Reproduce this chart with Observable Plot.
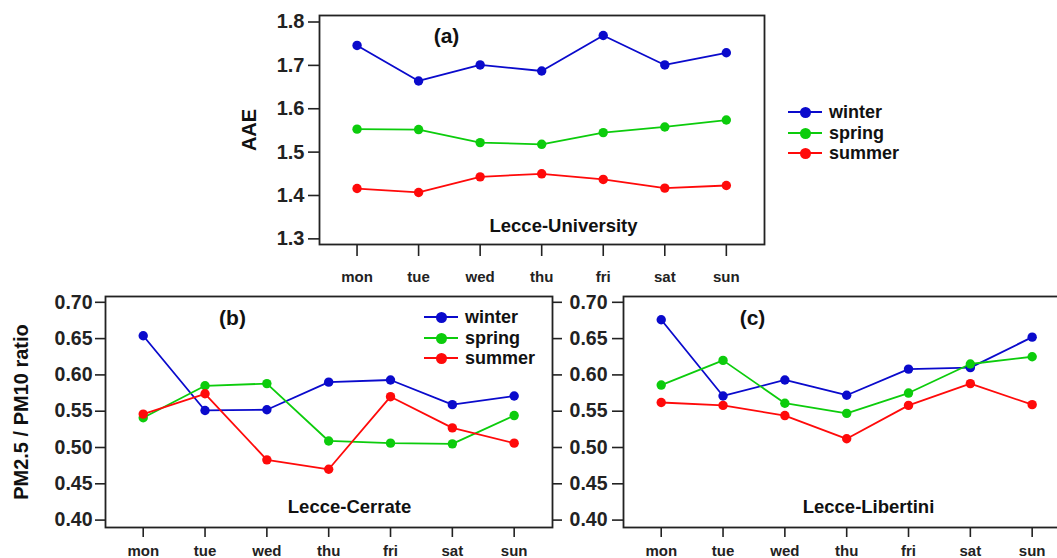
<!DOCTYPE html>
<html><head><meta charset="utf-8">
<script src="https://cdn.jsdelivr.net/npm/d3@7"></script>
<script src="https://cdn.jsdelivr.net/npm/@observablehq/plot@0.6"></script>
<style>
body{margin:0;background:#fff;overflow:hidden}
#wrap{position:relative;width:1057px;height:558px;overflow:hidden;font-family:"Liberation Sans",Arial,sans-serif;font-weight:bold;color:#111}
.panel{position:absolute}
.panel svg{max-width:none !important}
.legend{position:absolute;font-size:18px}
.row{position:absolute;left:0;height:20px;white-space:nowrap}
.sw{position:absolute;left:0;top:9px;width:34px;height:0;border-top:2px solid}
.dt{position:absolute;left:12px;top:5px;width:11px;height:11px;border-radius:50%}
.lb{position:absolute;left:41px;top:0;line-height:20px}
</style></head><body><div id="wrap"></div>
<script>
const days = ["mon","tue","wed","thu","fri","sat","sun"];
const seasons = ["winter","spring","summer"];
const seasonColors = ["#0a0acc","#0ccc0c","#ff0a0a"];

// (a) AAE, Lecce-University
const aaeWinter = [1.746,1.664,1.701,1.687,1.769,1.701,1.729];
const aaeSpring = [1.553,1.552,1.522,1.518,1.545,1.558,1.574];
const aaeSummer = [1.416,1.407,1.443,1.450,1.437,1.417,1.423];
// (b) PM2.5/PM10, Lecce-Cerrate
const cerWinter = [0.654,0.551,0.552,0.590,0.593,0.559,0.571];
const cerSpring = [0.541,0.585,0.588,0.509,0.506,0.505,0.544];
const cerSummer = [0.546,0.574,0.483,0.470,0.570,0.527,0.506];
// (c) PM2.5/PM10, Lecce-Libertini
const libWinter = [0.676,0.571,0.593,0.572,0.608,0.610,0.652];
const libSpring = [0.586,0.620,0.561,0.547,0.575,0.615,0.625];
const libSummer = [0.562,0.558,0.544,0.512,0.558,0.588,0.559];

const aaeTicks = [1.3,1.4,1.5,1.6,1.7,1.8];
const ratioTicks = [0.40,0.45,0.50,0.55,0.60,0.65,0.70];

function rowsOf(series){
  return series.flatMap((vals,k)=>vals.map((v,i)=>({day:i,value:v,season:seasons[k]})));
}

const wrap = document.getElementById("wrap");
const INK = "#222";

function drawPanel(o){
  const rows = rowsOf(o.series);
  const marks = [
    Plot.axisY(o.yTicks, {anchor:"left", tickSize:o.tyS, tickPadding:o.tyP, tickFormat:o.yFmt, fontSize:o.yFont, color:INK, strokeWidth:1.6, label:null}),
    Plot.axisX(d3.range(days.length), {anchor:"bottom", tickSize:o.txS, tickPadding:o.txP, tickFormat:i=>days[i], fontSize:o.xFont, color:INK, strokeWidth:1.6, label:null}),
  ];
  if (o.rightTicks) marks.push(Plot.axisY(o.yTicks, {anchor:"right", tickSize:9, tickFormat:()=>"", color:INK, strokeWidth:1.6, label:null}));
  marks.push(
    Plot.frame({stroke:INK, strokeWidth:1.8}),
    Plot.line(rows, {x:"day", y:"value", z:"season", stroke:"season", strokeWidth:1.8}),
    Plot.dot(rows, {x:"day", y:"value", fill:"season", r:4.7}),
    Plot.text([o.tag], {frameAnchor:"top-left", dx:o.tagDx, dy:o.tagDy, textAnchor:"middle", lineAnchor:"middle", fontSize:21, fill:"#111"}),
    Plot.text([o.site], {frameAnchor:"bottom-left", dx:o.siteDx, dy:o.siteDy, textAnchor:"middle", lineAnchor:"middle", fontSize:18.5, fill:"#111"})
  );
  if (o.ylabel) marks.push(Plot.text([o.ylabel], {frameAnchor:"left", dx:o.ylabelDx, rotate:-90, textAnchor:"middle", lineAnchor:"middle", fontSize:o.ylabelFont, fill:"#111"}));
  const svg = Plot.plot({
    width:o.width, height:o.height,
    marginLeft:o.ml, marginRight:o.mr, marginTop:o.mt, marginBottom:o.mb,
    x:{type:"linear", domain:[-0.61,6.62], axis:null},
    y:{domain:o.yDomain, axis:null},
    color:{domain:seasons, range:seasonColors},
    style:{fontFamily:'"Liberation Sans", Arial, sans-serif', fontWeight:"bold", background:"transparent", overflow:"visible", color:"#111", maxWidth:"none"},
    marks
  });
  svg.style.maxWidth = "none";
  const holder = document.createElement("div");
  holder.className = "panel";
  holder.style.left = o.left+"px"; holder.style.top = o.top+"px";
  holder.style.width = o.width+"px"; holder.style.height = o.height+"px";
  holder.appendChild(svg);
  wrap.appendChild(holder);
}

function legend(left, top, gap){
  const lg = document.createElement("div");
  lg.className = "legend";
  lg.style.left = left+"px"; lg.style.top = top+"px";
  seasons.forEach((s,k)=>{
    const r = document.createElement("div");
    r.className = "row"; r.style.top = (k*gap)+"px";
    r.innerHTML = `<div class="sw" style="border-color:${seasonColors[k]}"></div><div class="dt" style="background:${seasonColors[k]}"></div><div class="lb">${s}</div>`;
    lg.appendChild(r);
  });
  wrap.appendChild(lg);
}

drawPanel({series:[aaeWinter,aaeSpring,aaeSummer], left:230, top:0, width:560, height:285, ml:89, mr:26, mt:15, mb:41,
  yDomain:[1.287,1.815], yTicks:aaeTicks, yFmt:d3.format(".1f"), tyS:11, tyP:4, yFont:20, txS:12, txP:15, xFont:15,
  tag:"(a)", tagDx:127, tagDy:21, site:"Lecce-University", siteDx:244, siteDy:-18,
  ylabel:"AAE", ylabelDx:-70, ylabelFont:20});
drawPanel({series:[cerWinter,cerSpring,cerSummer], left:0, top:285, width:565, height:273, ml:105, mr:13, mt:11, mb:31,
  yDomain:[0.3898,0.708], yTicks:ratioTicks, yFmt:d3.format(".2f"), tyS:10, tyP:3, yFont:19.5, txS:10, txP:8, xFont:15,
  tag:"(b)", tagDx:127, tagDy:22, site:"Lecce-Cerrate", siteDx:244, siteDy:-20, rightTicks:true,
  ylabel:"PM2.5 / PM10 ratio", ylabelDx:-84, ylabelFont:20});
drawPanel({series:[libWinter,libSpring,libSummer], left:555, top:285, width:528, height:273, ml:68, mr:13, mt:11, mb:31,
  yDomain:[0.3898,0.708], yTicks:ratioTicks, yFmt:d3.format(".2f"), tyS:11, tyP:5, yFont:19.5, txS:10, txP:8, xFont:15,
  tag:"(c)", tagDx:129, tagDy:22, site:"Lecce-Libertini", siteDx:245, siteDy:-20});

legend(788, 102, 20.5);
legend(424, 307, 20.5);
</script></body></html>
